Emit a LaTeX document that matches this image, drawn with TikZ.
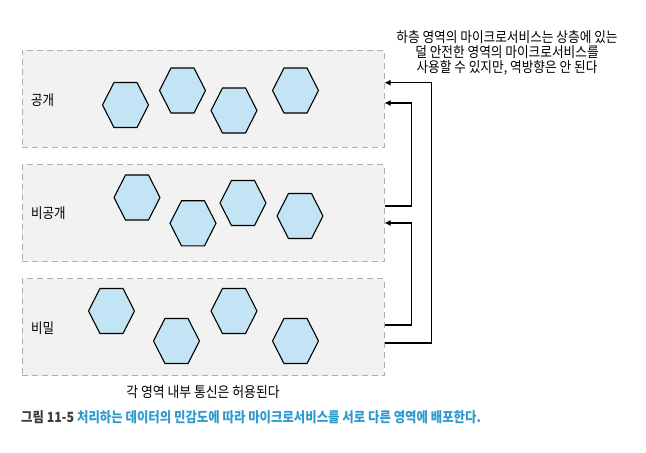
\documentclass[tikz,border=0pt]{standalone}
\usepackage{fontspec}
\setmainfont{Noto Sans CJK KR}[FakeStretch=0.88]
\usetikzlibrary{shapes.geometric, arrows.meta}
\definecolor{zonefill}{RGB}{242,242,242}
\definecolor{zoneline}{RGB}{175,175,175}
\definecolor{svcfill}{RGB}{194,228,245}
\definecolor{capblue}{RGB}{46,154,208}
\definecolor{capgray}{RGB}{60,60,60}

\begin{document}
\begin{tikzpicture}[x=1pt, y=-1pt,
	zone/.style={rectangle, draw=zoneline, fill=zonefill, line width=1pt, dash pattern=on 6pt off 4pt, minimum width=362pt, minimum height=97pt},
	svc/.style={regular polygon, regular polygon sides=6, draw, fill=svcfill, line width=1.1pt, minimum size=46pt, inner sep=0pt, yscale=1.13},
	tag/.style={anchor=west, inner sep=0pt, font=\fontsize{14.2}{15}\selectfont},
	conn/.style={line width=1.2pt, -{Latex[length=6pt, width=6pt]}}]

	\useasboundingbox (0,0) rectangle (646,453);

	% zones
	\node (z1) [zone] at (203, 98.5) {};
	\node (z2) [zone] at (203, 213) {};
	\node (z3) [zone] at (203, 327) {};

	\node (t1) [tag] at (31, 100) {공개};
	\node (t2) [tag] at (31, 213) {비공개};
	\node (t3) [tag] at (31, 328) {비밀};

	% microservices
	\node (p11) [svc] at (125.5, 105) {};
	\node (p12) [svc] at (182.5, 90.5) {};
	\node (p13) [svc] at (234, 110.5) {};
	\node (p14) [svc] at (295.5, 90.5) {};

	\node (p21) [svc] at (137, 197.5) {};
	\node (p22) [svc] at (193, 223.3) {};
	\node (p23) [svc] at (243, 203) {};
	\node (p24) [svc] at (300, 216) {};

	\node (p31) [svc] at (111.5, 311) {};
	\node (p32) [svc] at (176.5, 341) {};
	\node (p33) [svc] at (234, 311) {};
	\node (p34) [svc] at (295.5, 341) {};

	% calls from lower to upper zones
	\draw[conn] ([yshift=-16pt]z3.east) -- ++(47,0) |- ([yshift=15.8pt]z1.east);
	\draw[conn] ([yshift=7pt]z2.east) -- ++(27,0) |- ([yshift=-4.5pt]z1.east);
	\draw[conn] ([yshift=2pt]z3.east) -- ++(27,0) |- ([yshift=-10pt]z2.east);

	\node (note) [align=center, font=\fontsize{14.4}{15}\selectfont] at (507, 53)
		{하층 영역의 마이크로서비스는 상층에 있는\\덜 안전한 영역의 마이크로서비스를\\사용할 수 있지만, 역방향은 안 된다};
	\node (inner) [font=\fontsize{14.6}{15}\selectfont] at (203, 392) {각 영역 내부 통신은 허용된다};

	\node (cap) [anchor=west, inner sep=0pt, font=\bfseries\fontsize{14.1}{15}\selectfont] at (21, 417)
		{\textcolor{capgray}{그림 11-5} \textcolor{capblue}{처리하는 데이터의 민감도에 따라 마이크로서비스를 서로 다른 영역에 배포한다.}};

\end{tikzpicture}
\end{document}
